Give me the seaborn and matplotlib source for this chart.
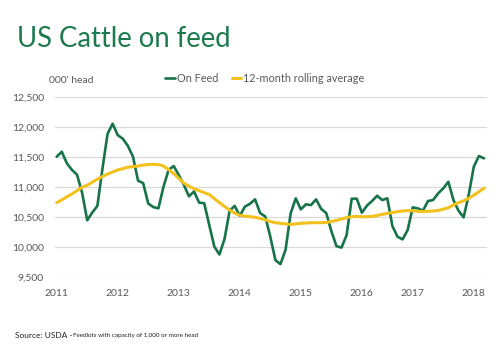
import pandas as pd
import matplotlib.pyplot as plt
import seaborn as sns
import numpy as np

sns.set_style("white")
plt.rcParams["font.family"] = ["Lato", "DejaVu Sans"]

green = "#17744a"
yellow = "#f3c11c"
grey_text = "#595959"

# monthly values, Jan 2011 - Jan 2018 ('000 head)
on_feed = [
    11500, 11583, 11390, 11280, 11200, 10900, 10440, 10570, 10680, 11300,
    11880, 12050, 11860, 11800, 11680, 11500, 11100, 11060, 10720, 10660,
    10640, 11000, 11280, 11345, 11195, 11030, 10840, 10920, 10735, 10725,
    10360, 10000, 9870, 10130, 10600, 10680, 10515, 10667, 10715, 10790,
    10560, 10505, 10167, 9775, 9710, 9950, 10556, 10806, 10622, 10706,
    10694, 10789, 10630, 10560, 10260, 10010, 9985, 10194, 10800, 10800,
    10567, 10685, 10761, 10850, 10778, 10806, 10344, 10167, 10122, 10278,
    10656, 10639, 10600, 10761, 10778, 10889, 10972, 11083, 10778, 10600,
    10489, 10861, 11333, 11511, 11472,
]
rolling_avg = [
    10735, 10780, 10830, 10880, 10935, 10990, 11025, 11075, 11125, 11170,
    11210, 11245, 11280, 11300, 11325, 11335, 11345, 11360, 11370, 11372,
    11370, 11345, 11285, 11220, 11140, 11060, 11010, 10965, 10935, 10900,
    10870, 10800, 10735, 10670, 10610, 10560, 10525, 10510, 10500, 10490,
    10470, 10450, 10420, 10400, 10390, 10380, 10372, 10380, 10390, 10395,
    10400, 10400, 10400, 10405, 10420, 10440, 10460, 10485, 10500, 10505,
    10500, 10500, 10505, 10520, 10540, 10555, 10570, 10585, 10595, 10600,
    10600, 10590, 10585, 10590, 10595, 10605, 10625, 10650, 10695, 10735,
    10765, 10805, 10860, 10915, 10975,
]
year_labels = ["2011", "2012", "2013", "2014", "2015", "2016", "2017", "2018"]
year_ticks = [0, 12, 24, 36, 48, 60, 70, 82]
y_ticks = [9500, 10000, 10500, 11000, 11500, 12000, 12500]

df = pd.DataFrame({
    "month": np.arange(len(on_feed)),
    "On Feed": on_feed,
    "12-month rolling average": rolling_avg,
})
long = df.melt(id_vars="month", var_name="series", value_name="head")

fig = plt.figure(figsize=(5, 3.5), dpi=100)
ax = fig.add_axes([0.11, 0.2094, 0.864, 0.5143])

sns.lineplot(data=long, x="month", y="head", hue="series",
             palette={"On Feed": green, "12-month rolling average": yellow},
             hue_order=["On Feed", "12-month rolling average"],
             ax=ax, legend=False)
lines = ax.get_lines()
lines[0].set_linewidth(1.9)
lines[1].set_linewidth(2.2)
lines[0].set_zorder(3)
lines[1].set_zorder(4)

ax.set_xlim(-0.33, 84.6)
ax.set_ylim(9500, 12500)
ax.set_yticks(y_ticks)
ax.set_yticklabels([f"{v:,}" for v in y_ticks])
ax.set_xticks(year_ticks)
ax.set_xticklabels(year_labels)
ax.tick_params(axis="both", length=0, labelsize=7.5, colors=grey_text)
ax.tick_params(axis="y", pad=8)
ax.tick_params(axis="x", pad=9)
ax.set_xlabel("")
ax.set_ylabel("")
ax.grid(axis="y", color="#d9d9d9", linewidth=0.9)
for s in ax.spines.values():
    s.set_visible(False)

fig.legend(handles=[lines[0], lines[1]], labels=["On Feed", "12-month rolling average"],
           loc="center", bbox_to_anchor=(0.53, 0.775), ncol=2, frameon=False,
           fontsize=7.8, handlelength=0.9, handletextpad=0.2, columnspacing=1.2,
           labelcolor=grey_text)

fig.text(0.098, 0.762, "000' head", fontsize=7.5, color=grey_text)
fig.text(0.034, 0.866, "US Cattle on feed", fontsize=19.8, color="#1c7a4e")
fig.text(0.03, 0.035, "Source: USDA -", fontsize=6, color="#222222")
fig.text(0.146, 0.037, "Feedlots with capacity of 1,000 or more head",
         fontsize=4.5, color="#222222")

plt.savefig("out.png", dpi=100)
